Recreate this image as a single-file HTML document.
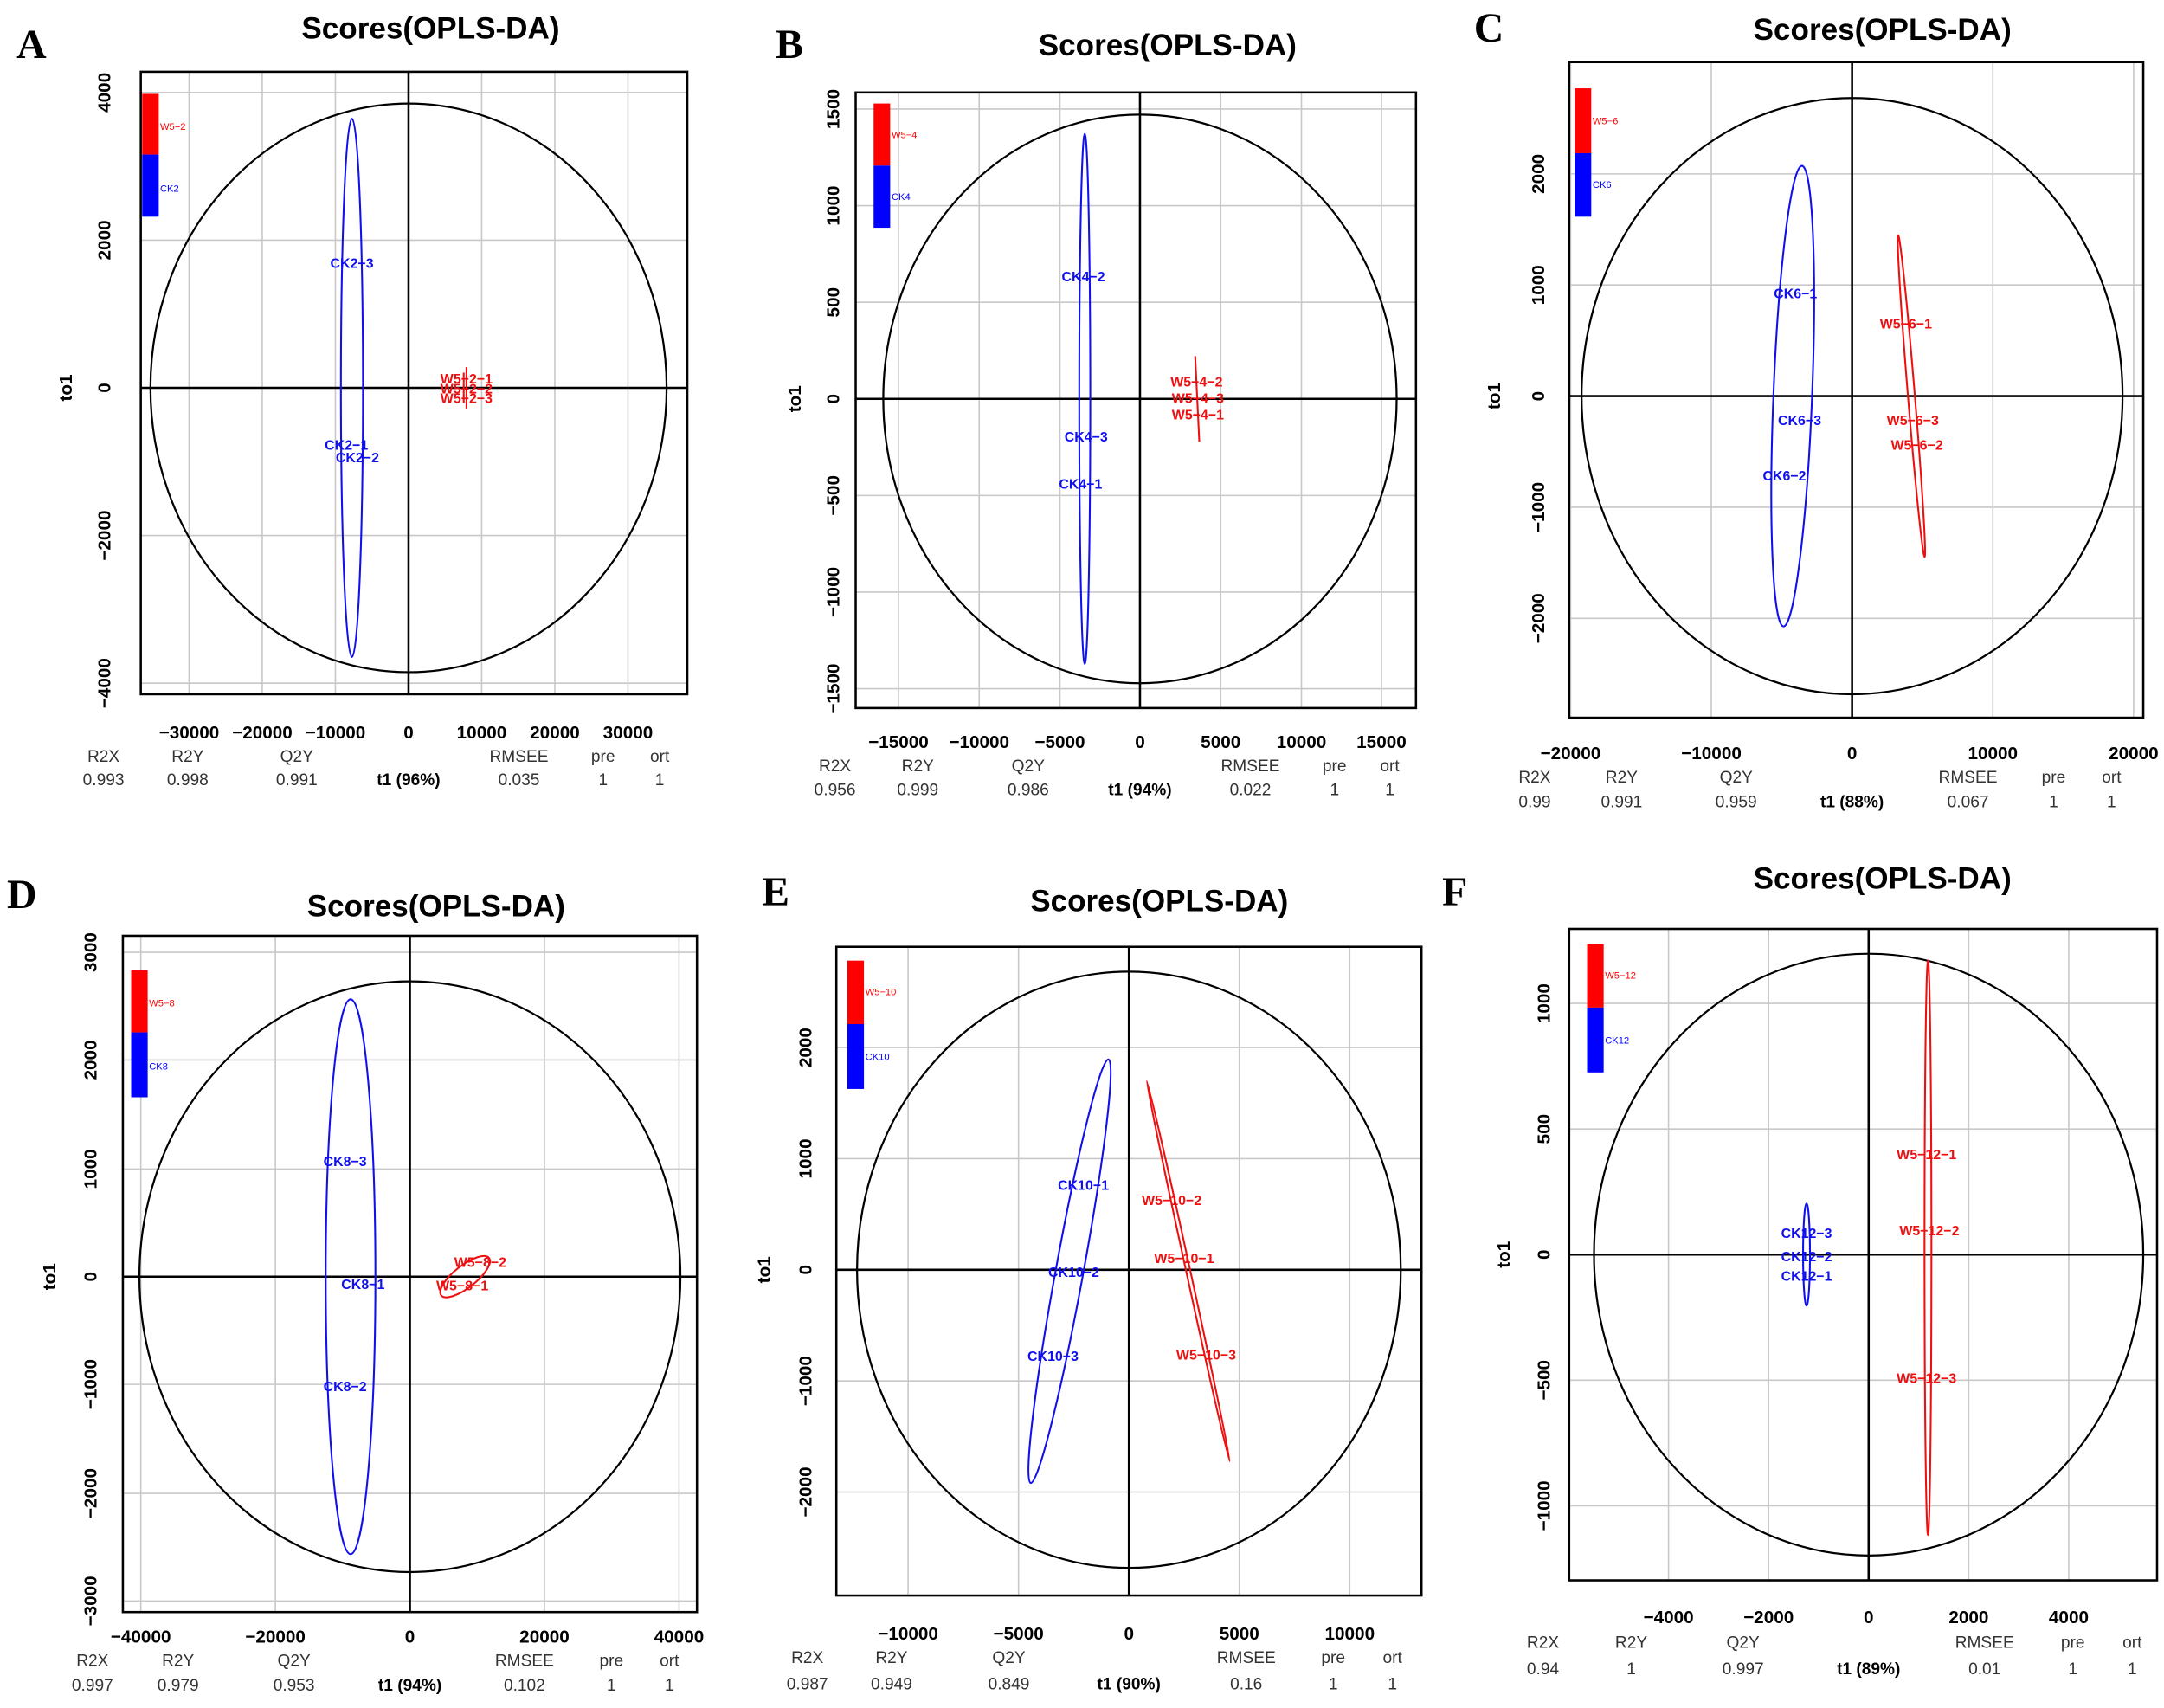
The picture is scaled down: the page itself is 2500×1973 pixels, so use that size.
<!DOCTYPE html>
<html><head><meta charset="utf-8"><style>
html,body{margin:0;padding:0;background:#fff}
svg{display:block}
text{font-family:"Liberation Sans",sans-serif}
.t{font-size:22px;font-weight:bold;text-anchor:middle}
.L{font-family:"Liberation Serif",serif;font-size:30px;font-weight:bold}
.tk{font-size:13px;font-weight:bold;text-anchor:middle;font-stretch:condensed}
.ft{font-size:12px;text-anchor:middle;fill:#333}
.b{font-weight:bold;fill:#000}
.g{stroke:#c8c8c8;stroke-width:1}
.ax{stroke:#000;stroke-width:1.6}
.bx{fill:none;stroke:#000;stroke-width:1.6}
.c{fill:none;stroke:#000;stroke-width:1.4}
.bl{fill:none;stroke:#1010ee;stroke-width:1.3}
.rd{fill:none;stroke:#ee1010;stroke-width:1.3}
.pb{font-size:10px;font-weight:bold;fill:#1010ee;text-anchor:middle}
.pr{font-size:10px;font-weight:bold;fill:#ee1010;text-anchor:middle}
.lg{font-size:7px}
</style></head><body>
<svg width="2500" height="1973" viewBox="0 0 1568 1237.5" xmlns="http://www.w3.org/2000/svg">
<rect width="1568" height="1238" fill="#fff"/>

<!-- Panel A -->
<text class="L" x="12" y="42">A</text>
<text class="t" x="312" y="28">Scores(OPLS-DA)</text>
<g class="g"><line x1="137" y1="52" x2="137" y2="503"/><line x1="190" y1="52" x2="190" y2="503"/><line x1="243" y1="52" x2="243" y2="503"/><line x1="349" y1="52" x2="349" y2="503"/><line x1="402" y1="52" x2="402" y2="503"/><line x1="455" y1="52" x2="455" y2="503"/>
<line x1="102" y1="67" x2="498" y2="67"/><line x1="102" y1="174" x2="498" y2="174"/><line x1="102" y1="388" x2="498" y2="388"/><line x1="102" y1="495" x2="498" y2="495"/></g>
<line class="ax" x1="296" y1="52" x2="296" y2="503"/><line class="ax" x1="102" y1="281" x2="498" y2="281"/>
<rect class="bx" x="102" y="52" width="396" height="451"/>
<ellipse class="c" cx="296" cy="281" rx="187" ry="206"/>
<ellipse class="bl" cx="255" cy="281" rx="8" ry="195"/>
<line class="rd" x1="338" y1="266" x2="338" y2="296" stroke-width="2"/><line class="rd" x1="336" y1="270" x2="336" y2="292"/>
<rect x="103" y="68" width="12" height="44" fill="#f00"/><rect x="103" y="112" width="12" height="45" fill="#00f"/>
<text class="lg" x="116" y="94" fill="#f00">W5−2</text><text class="lg" x="116" y="139" fill="#00f">CK2</text>
<text class="pb" x="255" y="194">CK2−3</text><text class="pb" x="251" y="326">CK2−1</text><text class="pb" x="259" y="335">CK2−2</text>
<text class="pr" x="338" y="278">W5−2−1</text><text class="pr" x="338" y="285">W5−2−2</text><text class="pr" x="338" y="292">W5−2−3</text>
<g class="tk"><text x="137" y="535">−30000</text><text x="190" y="535">−20000</text><text x="243" y="535">−10000</text><text x="296" y="535">0</text><text x="349" y="535">10000</text><text x="402" y="535">20000</text><text x="455" y="535">30000</text>
<text transform="translate(80,67) rotate(-90)">4000</text><text transform="translate(80,174) rotate(-90)">2000</text><text transform="translate(80,281) rotate(-90)">0</text><text transform="translate(80,388) rotate(-90)">−2000</text><text transform="translate(80,495) rotate(-90)">−4000</text>
<text transform="translate(52,281) rotate(-90)" font-weight="bold">to1</text></g>
<g class="ft"><text x="75" y="552">R2X</text><text x="136" y="552">R2Y</text><text x="215" y="552">Q2Y</text><text x="376" y="552">RMSEE</text><text x="437" y="552">pre</text><text x="478" y="552">ort</text>
<text x="75" y="569">0.993</text><text x="136" y="569">0.998</text><text x="215" y="569">0.991</text><text class="b" x="296" y="569">t1 (96%)</text><text x="376" y="569">0.035</text><text x="437" y="569">1</text><text x="478" y="569">1</text></g>

<!-- Panel B -->
<text class="L" x="562" y="42">B</text>
<text class="t" x="846" y="40">Scores(OPLS-DA)</text>
<g class="g"><line x1="651" y1="67" x2="651" y2="513"/><line x1="709.5" y1="67" x2="709.5" y2="513"/><line x1="768" y1="67" x2="768" y2="513"/><line x1="884.5" y1="67" x2="884.5" y2="513"/><line x1="943" y1="67" x2="943" y2="513"/><line x1="1001" y1="67" x2="1001" y2="513"/>
<line x1="620" y1="79" x2="1026" y2="79"/><line x1="620" y1="149" x2="1026" y2="149"/><line x1="620" y1="219" x2="1026" y2="219"/><line x1="620" y1="359" x2="1026" y2="359"/><line x1="620" y1="429" x2="1026" y2="429"/><line x1="620" y1="499" x2="1026" y2="499"/></g>
<line class="ax" x1="826" y1="67" x2="826" y2="513"/><line class="ax" x1="620" y1="289" x2="1026" y2="289"/>
<rect class="bx" x="620" y="67" width="406" height="446"/>
<ellipse class="c" cx="826" cy="289" rx="186" ry="206"/>
<ellipse class="bl" cx="786" cy="289" rx="4" ry="192"/>
<line class="rd" x1="866" y1="258" x2="869" y2="320" stroke-width="2"/>
<rect x="633" y="75" width="12" height="45" fill="#f00"/><rect x="633" y="120" width="12" height="45" fill="#00f"/>
<text class="lg" x="646" y="100" fill="#f00">W5−4</text><text class="lg" x="646" y="145" fill="#00f">CK4</text>
<text class="pb" x="785" y="204">CK4−2</text><text class="pb" x="787" y="320">CK4−3</text><text class="pb" x="783" y="354">CK4−1</text>
<text class="pr" x="867" y="280">W5−4−2</text><text class="pr" x="868" y="292">W5−4−3</text><text class="pr" x="868" y="304">W5−4−1</text>
<g class="tk"><text x="651" y="542">−15000</text><text x="709.5" y="542">−10000</text><text x="768" y="542">−5000</text><text x="826" y="542">0</text><text x="884.5" y="542">5000</text><text x="943" y="542">10000</text><text x="1001" y="542">15000</text>
<text transform="translate(608,79) rotate(-90)">1500</text><text transform="translate(608,149) rotate(-90)">1000</text><text transform="translate(608,219) rotate(-90)">500</text><text transform="translate(608,289) rotate(-90)">0</text><text transform="translate(608,359) rotate(-90)">−500</text><text transform="translate(608,429) rotate(-90)">−1000</text><text transform="translate(608,499) rotate(-90)">−1500</text>
<text transform="translate(580,289) rotate(-90)" font-weight="bold">to1</text></g>
<g class="ft"><text x="605" y="559">R2X</text><text x="665" y="559">R2Y</text><text x="745" y="559">Q2Y</text><text x="906" y="559">RMSEE</text><text x="967" y="559">pre</text><text x="1007" y="559">ort</text>
<text x="605" y="576">0.956</text><text x="665" y="576">0.999</text><text x="745" y="576">0.986</text><text class="b" x="826" y="576">t1 (94%)</text><text x="906" y="576">0.022</text><text x="967" y="576">1</text><text x="1007" y="576">1</text></g>

<!-- Panel C -->
<text class="L" x="1068" y="30">C</text>
<text class="t" x="1364" y="29">Scores(OPLS-DA)</text>
<g class="g"><line x1="1138" y1="45" x2="1138" y2="520"/><line x1="1240" y1="45" x2="1240" y2="520"/><line x1="1444" y1="45" x2="1444" y2="520"/><line x1="1546" y1="45" x2="1546" y2="520"/>
<line x1="1137" y1="126" x2="1553" y2="126"/><line x1="1137" y1="206.5" x2="1553" y2="206.5"/><line x1="1137" y1="367.5" x2="1553" y2="367.5"/><line x1="1137" y1="448" x2="1553" y2="448"/></g>
<line class="ax" x1="1342" y1="45" x2="1342" y2="520"/><line class="ax" x1="1137" y1="287" x2="1553" y2="287"/>
<rect class="bx" x="1137" y="45" width="416" height="475"/>
<ellipse class="c" cx="1342" cy="287" rx="196" ry="216"/>
<ellipse class="bl" cx="1299" cy="287" rx="14" ry="167" transform="rotate(2.3 1299 287)"/>
<ellipse class="rd" cx="1385" cy="287" rx="2.5" ry="117" transform="rotate(-4.7 1385 287)"/>
<rect x="1141" y="64" width="12" height="47" fill="#f00"/><rect x="1141" y="111" width="12" height="46" fill="#00f"/>
<text class="lg" x="1154" y="90" fill="#f00">W5−6</text><text class="lg" x="1154" y="136" fill="#00f">CK6</text>
<text class="pb" x="1301" y="216">CK6−1</text><text class="pb" x="1304" y="308">CK6−3</text><text class="pb" x="1293" y="348">CK6−2</text>
<text class="pr" x="1381" y="238">W5−6−1</text><text class="pr" x="1386" y="308">W5−6−3</text><text class="pr" x="1389" y="326">W5−6−2</text>
<g class="tk"><text x="1138" y="550">−20000</text><text x="1240" y="550">−10000</text><text x="1342" y="550">0</text><text x="1444" y="550">10000</text><text x="1546" y="550">20000</text>
<text transform="translate(1119,126) rotate(-90)">2000</text><text transform="translate(1119,206.5) rotate(-90)">1000</text><text transform="translate(1119,287) rotate(-90)">0</text><text transform="translate(1119,367.5) rotate(-90)">−1000</text><text transform="translate(1119,448) rotate(-90)">−2000</text>
<text transform="translate(1087,287) rotate(-90)" font-weight="bold">to1</text></g>
<g class="ft"><text x="1112" y="567">R2X</text><text x="1175" y="567">R2Y</text><text x="1258" y="567">Q2Y</text><text x="1426" y="567">RMSEE</text><text x="1488" y="567">pre</text><text x="1530" y="567">ort</text>
<text x="1112" y="585">0.99</text><text x="1175" y="585">0.991</text><text x="1258" y="585">0.959</text><text class="b" x="1342" y="585">t1 (88%)</text><text x="1426" y="585">0.067</text><text x="1488" y="585">1</text><text x="1530" y="585">1</text></g>

<!-- Panel D -->
<text class="L" x="5" y="658">D</text>
<text class="t" x="316" y="664">Scores(OPLS-DA)</text>
<g class="g"><line x1="102" y1="678" x2="102" y2="1168"/><line x1="199.5" y1="678" x2="199.5" y2="1168"/><line x1="394.5" y1="678" x2="394.5" y2="1168"/><line x1="492" y1="678" x2="492" y2="1168"/>
<line x1="89" y1="690" x2="505" y2="690"/><line x1="89" y1="768" x2="505" y2="768"/><line x1="89" y1="847" x2="505" y2="847"/><line x1="89" y1="1003" x2="505" y2="1003"/><line x1="89" y1="1082" x2="505" y2="1082"/><line x1="89" y1="1160" x2="505" y2="1160"/></g>
<line class="ax" x1="297" y1="678" x2="297" y2="1168"/><line class="ax" x1="89" y1="925" x2="505" y2="925"/>
<rect class="bx" x="89" y="678" width="416" height="490"/>
<ellipse class="c" cx="297" cy="925" rx="196" ry="214"/>
<ellipse class="bl" cx="254" cy="925" rx="18" ry="201"/>
<ellipse class="rd" cx="337" cy="925" rx="22" ry="8" transform="rotate(-38 337 925)"/>
<rect x="95" y="703" width="12" height="45" fill="#f00"/><rect x="95" y="748" width="12" height="47" fill="#00f"/>
<text class="lg" x="108" y="729" fill="#f00">W5−8</text><text class="lg" x="108" y="775" fill="#00f">CK8</text>
<text class="pb" x="250" y="845">CK8−3</text><text class="pb" x="263" y="934">CK8−1</text><text class="pb" x="250" y="1008">CK8−2</text>
<text class="pr" x="348" y="918">W5−8−2</text><text class="pr" x="335" y="935">W5−8−1</text>
<g class="tk"><text x="102" y="1190">−40000</text><text x="199.5" y="1190">−20000</text><text x="297" y="1190">0</text><text x="394.5" y="1190">20000</text><text x="492" y="1190">40000</text>
<text transform="translate(70,690) rotate(-90)">3000</text><text transform="translate(70,768) rotate(-90)">2000</text><text transform="translate(70,847) rotate(-90)">1000</text><text transform="translate(70,925) rotate(-90)">0</text><text transform="translate(70,1003) rotate(-90)">−1000</text><text transform="translate(70,1082) rotate(-90)">−2000</text><text transform="translate(70,1160) rotate(-90)">−3000</text>
<text transform="translate(40,925) rotate(-90)" font-weight="bold">to1</text></g>
<g class="ft"><text x="67" y="1207">R2X</text><text x="129" y="1207">R2Y</text><text x="213" y="1207">Q2Y</text><text x="380" y="1207">RMSEE</text><text x="443" y="1207">pre</text><text x="485" y="1207">ort</text>
<text x="67" y="1225">0.997</text><text x="129" y="1225">0.979</text><text x="213" y="1225">0.953</text><text class="b" x="297" y="1225">t1 (94%)</text><text x="380" y="1225">0.102</text><text x="443" y="1225">1</text><text x="485" y="1225">1</text></g>

<!-- Panel E -->
<text class="L" x="552" y="656">E</text>
<text class="t" x="840" y="660">Scores(OPLS-DA)</text>
<g class="g"><line x1="658" y1="686" x2="658" y2="1156"/><line x1="738" y1="686" x2="738" y2="1156"/><line x1="898" y1="686" x2="898" y2="1156"/><line x1="978" y1="686" x2="978" y2="1156"/>
<line x1="606" y1="759" x2="1030" y2="759"/><line x1="606" y1="839.5" x2="1030" y2="839.5"/><line x1="606" y1="1000.5" x2="1030" y2="1000.5"/><line x1="606" y1="1081" x2="1030" y2="1081"/></g>
<line class="ax" x1="818" y1="686" x2="818" y2="1156"/><line class="ax" x1="606" y1="920" x2="1030" y2="920"/>
<rect class="bx" x="606" y="686" width="424" height="470"/>
<ellipse class="c" cx="818" cy="920" rx="197" ry="216"/>
<ellipse class="bl" cx="775" cy="921" rx="10" ry="156" transform="rotate(10.4 775 921)"/>
<ellipse class="rd" cx="861" cy="921" rx="1.5" ry="141" transform="rotate(-12.3 861 921)"/>
<rect x="614" y="696" width="12" height="46" fill="#f00"/><rect x="614" y="742" width="12" height="47" fill="#00f"/>
<text class="lg" x="627" y="721" fill="#f00">W5−10</text><text class="lg" x="627" y="768" fill="#00f">CK10</text>
<text class="pb" x="785" y="862">CK10−1</text><text class="pb" x="778" y="925">CK10−2</text><text class="pb" x="763" y="986">CK10−3</text>
<text class="pr" x="849" y="873">W5−10−2</text><text class="pr" x="858" y="915">W5−10−1</text><text class="pr" x="874" y="985">W5−10−3</text>
<g class="tk"><text x="658" y="1188">−10000</text><text x="738" y="1188">−5000</text><text x="818" y="1188">0</text><text x="898" y="1188">5000</text><text x="978" y="1188">10000</text>
<text transform="translate(588,759) rotate(-90)">2000</text><text transform="translate(588,839.5) rotate(-90)">1000</text><text transform="translate(588,920) rotate(-90)">0</text><text transform="translate(588,1000.5) rotate(-90)">−1000</text><text transform="translate(588,1081) rotate(-90)">−2000</text>
<text transform="translate(558,920) rotate(-90)" font-weight="bold">to1</text></g>
<g class="ft"><text x="585" y="1205">R2X</text><text x="646" y="1205">R2Y</text><text x="731" y="1205">Q2Y</text><text x="903" y="1205">RMSEE</text><text x="966" y="1205">pre</text><text x="1009" y="1205">ort</text>
<text x="585" y="1224">0.987</text><text x="646" y="1224">0.949</text><text x="731" y="1224">0.849</text><text class="b" x="818" y="1224">t1 (90%)</text><text x="903" y="1224">0.16</text><text x="966" y="1224">1</text><text x="1009" y="1224">1</text></g>

<!-- Panel F -->
<text class="L" x="1045" y="656">F</text>
<text class="t" x="1364" y="644">Scores(OPLS-DA)</text>
<g class="g"><line x1="1209" y1="673" x2="1209" y2="1145"/><line x1="1281.5" y1="673" x2="1281.5" y2="1145"/><line x1="1426.5" y1="673" x2="1426.5" y2="1145"/><line x1="1499" y1="673" x2="1499" y2="1145"/>
<line x1="1137" y1="727" x2="1563" y2="727"/><line x1="1137" y1="818" x2="1563" y2="818"/><line x1="1137" y1="1000" x2="1563" y2="1000"/><line x1="1137" y1="1091" x2="1563" y2="1091"/></g>
<line class="ax" x1="1354" y1="673" x2="1354" y2="1145"/><line class="ax" x1="1137" y1="909" x2="1563" y2="909"/>
<rect class="bx" x="1137" y="673" width="426" height="472"/>
<ellipse class="c" cx="1354" cy="909" rx="199" ry="218"/>
<ellipse class="bl" cx="1309" cy="909" rx="2.5" ry="37"/>
<ellipse class="rd" cx="1397" cy="904" rx="2.5" ry="208"/>
<rect x="1150" y="684" width="12" height="46" fill="#f00"/><rect x="1150" y="730" width="12" height="47" fill="#00f"/>
<text class="lg" x="1163" y="709" fill="#f00">W5−12</text><text class="lg" x="1163" y="756" fill="#00f">CK12</text>
<text class="pb" x="1309" y="897">CK12−3</text><text class="pb" x="1309" y="914">CK12−2</text><text class="pb" x="1309" y="928">CK12−1</text>
<text class="pr" x="1396" y="840">W5−12−1</text><text class="pr" x="1398" y="895">W5−12−2</text><text class="pr" x="1396" y="1002">W5−12−3</text>
<g class="tk"><text x="1209" y="1176">−4000</text><text x="1281.5" y="1176">−2000</text><text x="1354" y="1176">0</text><text x="1426.5" y="1176">2000</text><text x="1499" y="1176">4000</text>
<text transform="translate(1123,727) rotate(-90)">1000</text><text transform="translate(1123,818) rotate(-90)">500</text><text transform="translate(1123,909) rotate(-90)">0</text><text transform="translate(1123,1000) rotate(-90)">−500</text><text transform="translate(1123,1091) rotate(-90)">−1000</text>
<text transform="translate(1094,909) rotate(-90)" font-weight="bold">to1</text></g>
<g class="ft"><text x="1118" y="1194">R2X</text><text x="1182" y="1194">R2Y</text><text x="1263" y="1194">Q2Y</text><text x="1438" y="1194">RMSEE</text><text x="1502" y="1194">pre</text><text x="1545" y="1194">ort</text>
<text x="1118" y="1213">0.94</text><text x="1182" y="1213">1</text><text x="1263" y="1213">0.997</text><text class="b" x="1354" y="1213">t1 (89%)</text><text x="1438" y="1213">0.01</text><text x="1502" y="1213">1</text><text x="1545" y="1213">1</text></g>
</svg>
</body></html>
